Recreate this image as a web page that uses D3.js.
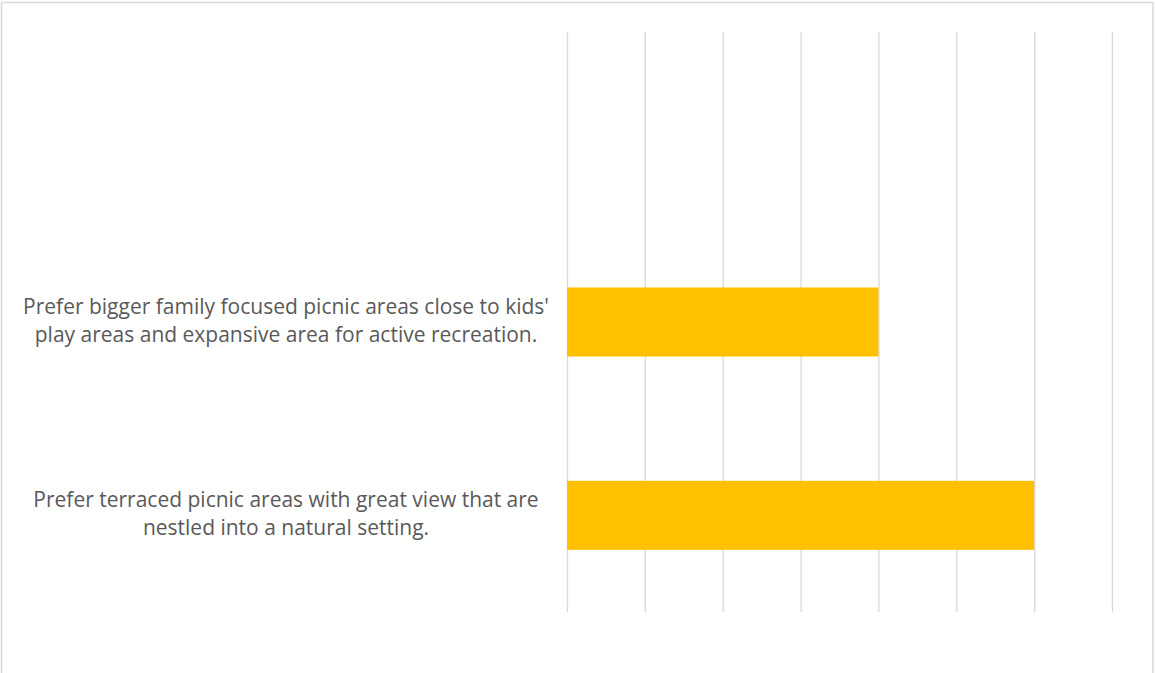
<!DOCTYPE html>
<html>
<head>
<meta charset="utf-8">
<script src="https://cdn.jsdelivr.net/npm/d3@7"></script>
<style>
  html, body { margin: 0; padding: 0; background: #fff; }
  svg { display: block; }
</style>
</head>
<body>
<svg id="chart" width="1155" height="673"></svg>
<script>
// categories from top to bottom (top slot is blank in the source chart)
var categories = [
  "",
  "Prefer bigger family focused picnic areas close to kids' play areas and expansive area for active recreation.",
  "Prefer terraced picnic areas with great view that are nestled into a natural setting."
];
// label lines as wrapped in the original
var label_lines = [
  [],
  ["Prefer bigger family focused picnic areas close to kids'", "play areas and expansive area for active recreation."],
  ["Prefer terraced picnic areas with great view that are", "nestled into a natural setting."]
];
var values = [null, 4, 6];
var x_ticks = [0, 1, 2, 3, 4, 5, 6, 7];

var svg = d3.select("#chart");

// outer chart border (bottom edge falls outside the picture)
svg.append("rect")
    .attr("x", 1.5)
    .attr("y", 2.5)
    .attr("width", 1151.5)
    .attr("height", 700)
    .attr("fill", "none")
    .attr("stroke", "#d9d9d9")
    .attr("stroke-width", 1.5);

var plot = { left: 567, right: 1112, top: 32, bottom: 612 };

var x = d3.scaleLinear()
    .domain([0, 7])
    .range([plot.left, plot.right]);

var y = d3.scaleBand()
    .domain(categories)
    .range([plot.top, plot.bottom])
    .paddingInner(0.643)
    .paddingOuter(0.3215);

// vertical gridlines
var grid = svg.append("g")
    .attr("transform", "translate(0," + plot.bottom + ")")
    .call(d3.axisBottom(x)
        .tickValues(x_ticks)
        .tickSize(-(plot.bottom - plot.top))
        .tickFormat(""));
grid.select(".domain").remove();
grid.selectAll(".tick line")
    .attr("stroke", "#d9d9d9")
    .attr("stroke-width", 1.3);

// bars
svg.append("g")
    .selectAll("rect")
    .data(categories.map((c, i) => ({ cat: c, v: values[i] })).filter(d => d.v != null))
    .enter()
    .append("rect")
    .attr("x", x(0))
    .attr("y", d => y(d.cat))
    .attr("width", d => x(d.v) - x(0))
    .attr("height", y.bandwidth())
    .attr("fill", "#ffc000");

// category labels
var labels = svg.append("g")
    .attr("font-family", "'Open Sans', sans-serif")
    .attr("font-size", "21px")
    .attr("fill", "#595959")
    .attr("text-anchor", "middle");

categories.forEach((c, i) => {
    var cy = y(c) + y.bandwidth() / 2;
    var lines = label_lines[i];
    var t = labels.append("text")
        .attr("x", 286)
        .attr("y", cy - 8.5);
    lines.forEach((ln, j) => {
        t.append("tspan")
            .attr("x", 286)
            .attr("dy", j === 0 ? 0 : 28.5)
            .text(ln);
    });
});
</script>
</body>
</html>
